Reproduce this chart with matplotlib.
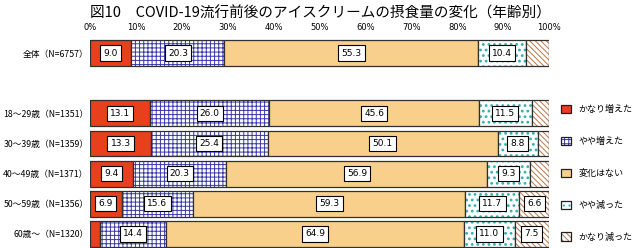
import numpy as np
import matplotlib
matplotlib.use('Agg')
import matplotlib.pyplot as plt
from matplotlib.patches import Patch

plt.rcParams['font.family'] = ['Noto Sans CJK JP', 'DejaVu Sans']

groups = ['全体（N=6757）', '18～29歳（N=1351）', '30～39歳（N=1359）',
          '40～49歳（N=1371）', '50～59歳（N=1356）', '60歳～（N=1320）']
ypos = [0, 2, 3, 4, 5, 6]
kanari_up = [9.0, 13.1, 13.3, 9.4, 6.9, 2.2]
yaya_up = [20.3, 26.0, 25.4, 20.3, 15.6, 14.4]
no_change = [55.3, 45.6, 50.1, 56.9, 59.3, 64.9]
yaya_down = [10.4, 11.5, 8.8, 9.3, 11.7, 11.0]
kanari_down = [5.0, 3.8, 2.4, 4.1, 6.6, 7.5]
series_names = ['かなり増えた', 'やや増えた', '変化はない', 'やや減った', 'かなり減った']
xticks = [0, 10, 20, 30, 40, 50, 60, 70, 80, 90, 100]

series = [kanari_up, yaya_up, no_change, yaya_down, kanari_down]
# face colour, hatch, hatch colour, hatch line width
styles = [('#E8401C', None, '#E8401C', 0.7),
          ('white', '++++', '#3838A8', 0.7),
          ('#F8D08C', None, '#F8D08C', 0.7),
          ('white', '...', '#30B0B0', 1.2),
          ('white', '\\\\\\\\\\\\', '#B8784A', 0.7)]

fig = plt.figure(figsize=(6.4, 2.48), dpi=100)
ax = fig.add_axes([90 / 640, -1 / 248, 459 / 640, 211 / 248])

left = np.zeros(len(groups))
for vals, (fc, hatch, hc, hlw) in zip(series, styles):
    vals = np.array(vals)
    plt.rcParams['hatch.linewidth'] = hlw
    ax.barh(ypos, vals, left=left, height=0.86, color=fc, hatch=hatch,
            edgecolor=hc, linewidth=0)
    ax.barh(ypos, vals, left=left, height=0.86, fill=False,
            edgecolor='#303030', linewidth=0.9)
    for y, v, l in zip(ypos, vals, left):
        if v >= 6:
            ax.text(l + v / 2, y, f'{v:.1f}', ha='center', va='center',
                    fontsize=6.5, family='DejaVu Sans',
                    bbox=dict(boxstyle='square,pad=0.35', fc='white',
                              ec='black', lw=0.8))
    left += vals

ax.set_xlim(0, 100)
ax.set_ylim(6.5, -0.5)
ax.xaxis.tick_top()
ax.set_xticks(xticks)
ax.set_xticklabels([f'{t}%' for t in xticks], fontsize=6, family='DejaVu Sans')
ax.tick_params(axis='x', length=0, pad=4)
ax.set_yticks(ypos)
ax.set_yticklabels(groups, fontsize=6.3)
ax.tick_params(axis='y', length=0, pad=1)
for s in ax.spines.values():
    s.set_visible(False)

fig.text(0.5, 0.945, '図10　COVID-19流行前後のアイスクリームの摂食量の変化（年齢別）',
         ha='center', va='center', fontsize=10.5)

handles = []
for fc, hatch, hc, hlw in styles:
    plt.rcParams['hatch.linewidth'] = hlw
    handles.append((Patch(facecolor=fc, hatch=hatch, edgecolor=hc, linewidth=0),
                    Patch(fill=False, edgecolor='#202020', linewidth=0.9)))
fig.legend(handles, series_names, loc='upper left', bbox_to_anchor=(553 / 640, 1 - 97 / 248),
           frameon=False, fontsize=6.5, handlelength=1.05, handleheight=1.05,
           labelspacing=2.5, handletextpad=0.9)

fig.savefig('out.png', dpi=100)
